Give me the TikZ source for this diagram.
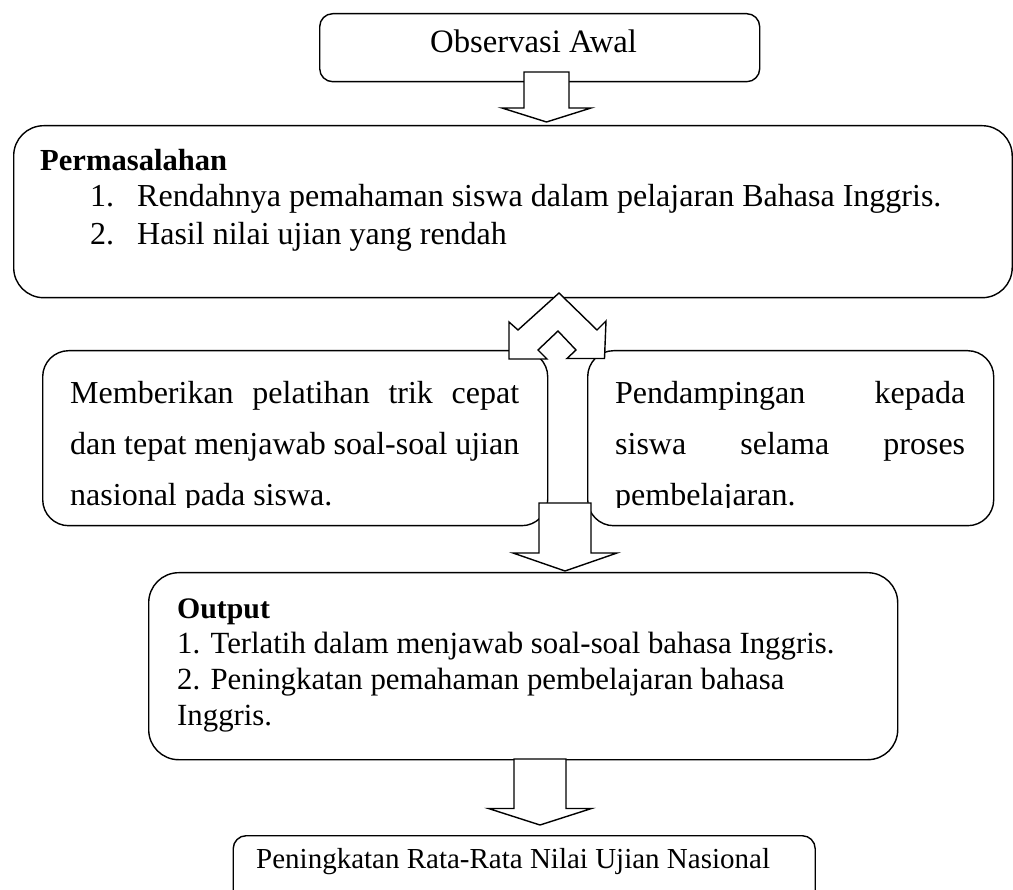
\documentclass[tikz,border=0pt]{standalone}
\usepackage{fontspec}
\setmainfont{Liberation Serif}
\usetikzlibrary{positioning}
\hyphenpenalty=10000
\exhyphenpenalty=10000

\tikzset{
    box/.style={draw, line width=1.4pt, fill=white, inner sep=0pt, anchor=north west},
    txt/.style={inner sep=0pt, anchor=base west},
    pics/blockdown/.style n args={4}{code={
        \draw[line width=1.4pt, fill=white] (-#1,0) -- (#1,0) -- (#1,#3) -- (#2,#3)
            -- (0,{#3+#4}) -- (-#2,#3) -- (-#1,#3) -- cycle;
    }},
}

\begin{document}
\begin{tikzpicture}[x=1pt, y=-1pt, line join=miter]
    \useasboundingbox (0,0) rectangle (1013,890);

    % Observasi awal
    \node[box, rounded corners=13pt, minimum width=440pt, minimum height=68pt] (obs) at (319,13) {};
    \node[txt, font=\fontsize{32.7}{38}\selectfont] (obstext) at (430,53) {Observasi Awal};

    % Permasalahan
    \node[box, rounded corners=30pt, minimum width=998.5pt, minimum height=172pt] (masalah) at (13,125) {};
    \node[txt, font=\fontsize{30.6}{36}\selectfont\bfseries] (hdmasalah) at (40,171) {Permasalahan};
    \foreach \n/\t/\y in {1/Rendahnya pemahaman siswa dalam pelajaran Bahasa Inggris./207,
                          2/Hasil nilai ujian yang rendah/245} {
        \node[txt, font=\fontsize{32}{38}\selectfont] (num\n) at (90,\y) {\n.};
        \node[txt, font=\fontsize{32}{38}\selectfont] (item\n) at (137,\y) {\t};
    }

    % Arrow observasi -> permasalahan
    \coordinate (arrA) at (546.5,72);
    \pic at (arrA) {blockdown={22.5}{44.5}{36}{14}};

    % Kegiatan
    \node[box, rounded corners=26pt, minimum width=505pt, minimum height=175pt] (metodeA) at (42,350) {};
    \node[box, rounded corners=26pt, minimum width=406pt, minimum height=175pt] (metodeB) at (587,350) {};
    \begin{scope}
        \clip (42,350) rectangle (993,508);
        \node[txt, text width=449pt, align=justify, font=\fontsize{32}{51}\selectfont] (textA) at (70,404)
            {Memberikan pelatihan trik cepat\linebreak dan tepat menjawab soal-soal ujian\linebreak nasional pada siswa.};
        \node[txt, text width=350pt, align=justify, font=\fontsize{32}{51}\selectfont] (textB) at (615,404)
            {Pendampingan kepada\linebreak siswa selama proses\linebreak pembelajaran.};
    \end{scope}

    % Double chevron arrow
    \draw[line width=1.4pt, fill=white] (509,359) -- (509,322) -- (518,330) -- (559,293) -- (597,330)
        -- (606,321) -- (604.5,358.5) -- (567,358.5) -- (576,350) -- (558,331) -- (538,350)
        -- (547,359) -- cycle;

    % Arrow kegiatan -> output
    \coordinate (arrB) at (565,503);
    \pic at (arrB) {blockdown={26}{52}{50}{18}};

    % Output
    \node[box, rounded corners=30pt, minimum width=749pt, minimum height=187pt] (output) at (148,572) {};
    \node[txt, font=\fontsize{29.8}{36}\selectfont\bfseries] (hdoutput) at (177,619) {Output};
    \node[txt, font=\fontsize{30.8}{36}\selectfont] (out1) at (177,653) {1. Terlatih dalam menjawab soal-soal bahasa Inggris.};
    \node[txt, font=\fontsize{30.8}{36}\selectfont] (out2) at (177,689) {2. Peningkatan pemahaman pembelajaran bahasa};
    \node[txt, font=\fontsize{30.8}{36}\selectfont] (out3) at (177,725) {Inggris.};

    % Arrow output -> hasil
    \coordinate (arrC) at (540,759);
    \pic at (arrC) {blockdown={26}{51.5}{49.5}{16.5}};

    % Hasil akhir
    \node[box, rounded corners=13pt, minimum width=582pt, minimum height=80pt] (hasil) at (232.5,835) {};
    \node[txt, font=\fontsize{29}{34}\selectfont] (hasiltext) at (256,868) {Peningkatan Rata-Rata Nilai Ujian Nasional};
\end{tikzpicture}
\end{document}
